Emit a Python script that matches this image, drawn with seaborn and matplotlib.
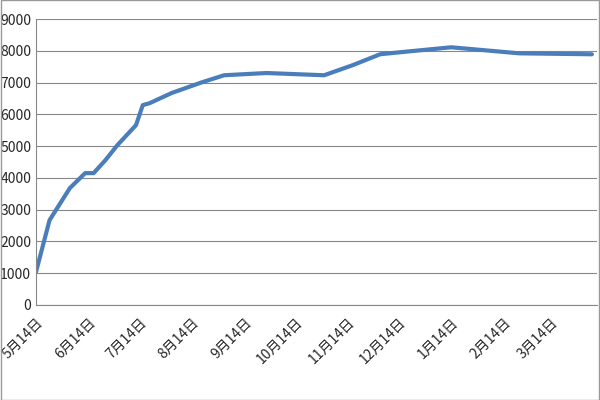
import pandas as pd
import matplotlib.pyplot as plt
import matplotlib.dates as mdates
import seaborn as sns

dates = ["2012-05-14", "2012-05-22", "2012-06-03", "2012-06-12", "2012-06-17",
         "2012-06-24", "2012-07-01", "2012-07-12", "2012-07-16", "2012-07-20",
         "2012-08-02", "2012-08-20", "2012-09-02", "2012-09-27", "2012-10-31",
         "2012-11-17", "2012-12-03", "2012-12-16", "2013-01-14", "2013-02-23",
         "2013-04-07"]
values = [1040, 2670, 3680, 4150, 4150, 4560, 5030, 5660, 6290, 6350,
          6670, 7010, 7230, 7300, 7230, 7550, 7890, 7960, 8110, 7920, 7890]
tick_dates = ["2012-05-14", "2012-06-14", "2012-07-14", "2012-08-14", "2012-09-14",
              "2012-10-14", "2012-11-14", "2012-12-14", "2013-01-14", "2013-02-14",
              "2013-03-14"]
tick_labels = ["5月14日", "6月14日", "7月14日", "8月14日", "9月14日", "10月14日",
               "11月14日", "12月14日", "1月14日", "2月14日", "3月14日"]
y_ticks = list(range(0, 9001, 1000))

df = pd.DataFrame({"date": pd.to_datetime(dates), "value": values})

sns.set_style("white")
plt.rcParams['font.family'] = ['Noto Sans CJK SC', 'DejaVu Sans']

fig = plt.figure(figsize=(6, 4), dpi=100)
ax = fig.add_axes([0.06, 0.2375, 0.935, 0.715])
sns.lineplot(data=df, x="date", y="value", ax=ax, color="#4a7ebb", linewidth=3)

ax.set_xlim(pd.Timestamp("2012-05-14"), pd.Timestamp("2013-04-10"))
ax.set_ylim(0, 9000)
ax.set_yticks(y_ticks)
ax.set_yticklabels([str(v) for v in y_ticks], fontsize=10)
ax.set_xticks(pd.to_datetime(tick_dates))
ax.set_xticklabels(tick_labels, rotation=45, ha="right", rotation_mode="anchor", fontsize=10)
ax.tick_params(axis="both", length=4, color="#888888", direction="out")
ax.tick_params(axis="y", length=0)
ax.grid(axis="y", color="#888888", linewidth=0.8)
for s in ["top", "right"]:
    ax.spines[s].set_visible(False)
ax.spines["left"].set_color("#888888")
ax.spines["bottom"].set_color("#888888")
ax.set_xlabel("")
ax.set_ylabel("")

fig.patches.append(plt.Rectangle((0.001, 0.001), 0.998, 0.998, transform=fig.transFigure,
                                 fill=False, edgecolor="#999999", linewidth=1))
fig.savefig("out.png", dpi=100)
